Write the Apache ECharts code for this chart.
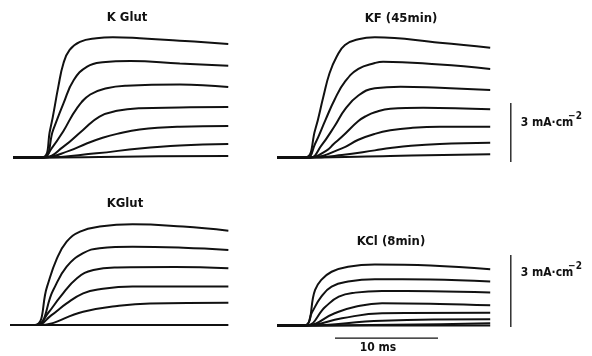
<!DOCTYPE html>
<html>
<head>
<meta charset="utf-8">
<script src="https://cdn.jsdelivr.net/npm/echarts@6.0.0/dist/echarts.min.js"></script>
<style>
    html, body { margin: 0; background: #fff; }
    #chart { width: 592px; height: 356px; }
</style>
</head>
<body>
<div id="chart"></div>
<script>
// current traces, points are [time ms, current mA·cm-2]
const kglutTop = [
    [[0, 0], [2.8, 0], [3.6, 1.40], [4.4, 3.60], [4.9, 4.79], [5.5, 5.47], [6.5, 5.88], [8.1, 6.06], [9.7, 6.11], [12.3, 6.06], [16.7, 5.92], [20.9, 5.77]],
    [[0, 0], [2.9, 0], [3.9, 1.40], [4.9, 2.75], [5.9, 3.94], [7.2, 4.62], [8.7, 4.84], [11.4, 4.91], [16.2, 4.78], [20.9, 4.66]],
    [[0, 0], [2.9, 0], [3.8, 0.50], [4.9, 1.35], [6.2, 2.50], [7.5, 3.20], [9.1, 3.52], [11.0, 3.65], [16.2, 3.71], [20.9, 3.58]],
    [[0, 0], [3.0, 0], [4.9, 0.55], [6.8, 1.40], [8.4, 2.08], [10.1, 2.37], [12.3, 2.50], [16.2, 2.54], [20.9, 2.57]],
    [[0, 0], [3.0, 0], [5.5, 0.35], [7.1, 0.70], [8.7, 1.00], [10.1, 1.20], [12.3, 1.42], [16.2, 1.56], [20.9, 1.60]],
    [[0, 0], [3.0, 0], [8.1, 0.21], [12.3, 0.46], [16.2, 0.61], [20.9, 0.68]],
    [[0, 0], [3.0, 0], [12.3, 0.05], [20.9, 0.08]]
]
const kf45 = [
    [[0, 0], [2.7, 0], [3.7, 1.40], [4.5, 3.09], [5.1, 4.28], [5.8, 5.13], [6.6, 5.72], [7.9, 6.01], [9.5, 6.11], [15.8, 5.83], [20.7, 5.58]],
    [[0, 0], [2.9, 0], [3.7, 0.70], [4.7, 1.90], [5.6, 2.95], [6.6, 3.85], [7.9, 4.50], [9.5, 4.80], [10.3, 4.87], [15.8, 4.72], [20.7, 4.50]],
    [[0, 0], [3.2, 0], [4.3, 0.60], [5.6, 1.60], [6.6, 2.45], [7.9, 3.15], [9.5, 3.52], [12.0, 3.60], [15.8, 3.54], [20.7, 3.43]],
    [[0, 0], [3.2, 0], [4.8, 0.35], [5.5, 0.68], [6.3, 1.05], [7.9, 1.85], [8.7, 2.12], [9.5, 2.30], [11.0, 2.48], [14.2, 2.53], [20.7, 2.45]],
    [[0, 0], [3.2, 0], [6.3, 0.46], [7.9, 0.90], [9.5, 1.20], [11.0, 1.38], [13.0, 1.50], [15.8, 1.56], [20.7, 1.56]],
    [[0, 0], [3.2, 0], [6.3, 0.12], [9.5, 0.36], [11.0, 0.48], [13.0, 0.60], [15.8, 0.69], [20.7, 0.75]],
    [[0, 0], [3.2, 0], [11.0, 0.08], [20.7, 0.16]]
]
const kglutBottom = [
    [[0, 0], [2.4, 0], [3.6, 1.60], [4.5, 2.71], [5.5, 3.47], [6.8, 3.89], [8.7, 4.10], [11.9, 4.20], [16.8, 4.10], [21.2, 3.93]],
    [[0, 0], [2.5, 0], [4.2, 1.46], [5.5, 2.43], [7.1, 2.99], [8.7, 3.20], [11.9, 3.26], [16.8, 3.22], [21.2, 3.13]],
    [[0, 0], [2.6, 0], [3.7, 0.50], [4.9, 1.18], [6.5, 1.95], [8.1, 2.29], [10.4, 2.40], [16.0, 2.42], [21.2, 2.36]],
    [[0, 0], [2.6, 0], [4.0, 0.40], [5.5, 0.90], [7.1, 1.32], [8.7, 1.49], [11.9, 1.60], [21.2, 1.60]],
    [[0, 0], [2.7, 0], [7.1, 0.55], [10.4, 0.79], [13.6, 0.90], [21.2, 0.93]],
    [[0, 0], [21.2, 0]]
]
const kcl8 = [
    [[0, 0], [2.6, 0], [3.7, 1.48], [4.3, 1.90], [5.3, 2.24], [6.9, 2.45], [9.5, 2.54], [14.9, 2.50], [20.7, 2.34]],
    [[0, 0], [2.7, 0], [3.4, 0.55], [4.3, 1.20], [5.3, 1.62], [6.9, 1.83], [9.5, 1.93], [14.9, 1.92], [20.7, 1.83]],
    [[0, 0], [2.8, 0], [4.7, 0.78], [6.0, 1.20], [7.6, 1.37], [10.2, 1.44], [15.0, 1.43], [20.7, 1.38]],
    [[0, 0], [2.8, 0], [5.6, 0.51], [7.6, 0.78], [10.2, 0.93], [15.8, 0.90], [20.7, 0.84]],
    [[0, 0], [2.8, 0], [6.3, 0.30], [10.2, 0.51], [20.7, 0.53]],
    [[0, 0], [2.8, 0], [10.2, 0.20], [20.7, 0.26]],
    [[0, 0], [2.8, 0], [20.7, 0.09]],
    [[0, 0], [20.7, 0]]
]
const panelNames = ['K Glut', 'KF (45min)', 'KGlut', 'KCl (8min)']
// calibration bars
const scaleBarTop = [[22.7, -0.23], [22.7, 2.77]]
const scaleBarBottom = [[22.7, -0.06], [22.7, 2.94]]
const timeBar = [[5.63, -0.53], [15.63, -0.53]]
const scaleLabel = '3 mA·cm'
const timeLabel = '10 ms'

const font = "'Liberation Sans Narrow', 'DejaVu Sans Condensed', 'Liberation Sans', sans-serif"
const ink = '#111'

let chart = echarts.init(document.getElementById('chart'), null, { renderer: 'canvas' })

let panels = [kglutTop, kf45, kglutBottom, kcl8]
let series = []
panels.forEach((traces, i) => {
    for (let tr of traces) {
        series.push({
            type: 'line',
            xAxisIndex: i,
            yAxisIndex: i,
            data: tr,
            showSymbol: false,
            smooth: 0.45,
            silent: true,
            lineStyle: { color: ink, width: 2 }
        })
    }
})
// bars
let bar = (idx, data, w) => ({
    type: 'line', xAxisIndex: idx, yAxisIndex: idx, data: data,
    showSymbol: false, silent: true, lineStyle: { color: ink, width: w }
})
series.push(bar(1, scaleBarTop, 1.3))
series.push(bar(3, scaleBarBottom, 1.3))
series.push(bar(3, timeBar, 1.3))

let axisX = i => ({ type: 'value', gridIndex: i, min: 0, max: 24, show: false })

let text = (x, y, str, size) => ({
    type: 'text', x: x, y: y, silent: true,
    style: {
        text: str, fill: ink, font: 'bold ' + size + 'px ' + font,
        align: 'center', verticalAlign: 'middle'
    }
})

chart.setOption({
    animation: false,
    grid: [
        { left: 13, top: 29.6, width: 247.2, height: 137.7 },
        { left: 277, top: 29.6, width: 247.2, height: 137.7 },
        { left: 10, top: 217, width: 247.2, height: 136.8 },
        { left: 277, top: 217.5, width: 247.2, height: 136.8 }
    ],
    xAxis: [axisX(0), axisX(1), axisX(2), axisX(3)],
    yAxis: [
        { type: 'value', gridIndex: 0, min: -0.5, max: 6.5, show: false },
        { type: 'value', gridIndex: 1, min: -0.5, max: 6.5, show: false },
        { type: 'value', gridIndex: 2, min: -1.2, max: 4.5, show: false },
        { type: 'value', gridIndex: 3, min: -1.2, max: 4.5, show: false }
    ],
    series: series,
    graphic: [
        text(127, 18, panelNames[0], 13),
        text(401, 19, panelNames[1], 13),
        text(125, 204, panelNames[2], 13),
        text(391, 242, panelNames[3], 13),
        text(547, 123, scaleLabel, 12),
        text(575, 116, '−2', 10),
        text(547, 273, scaleLabel, 12),
        text(575, 266, '−2', 10),
        text(378, 348, timeLabel, 12)
    ]
})
</script>
</body>
</html>
